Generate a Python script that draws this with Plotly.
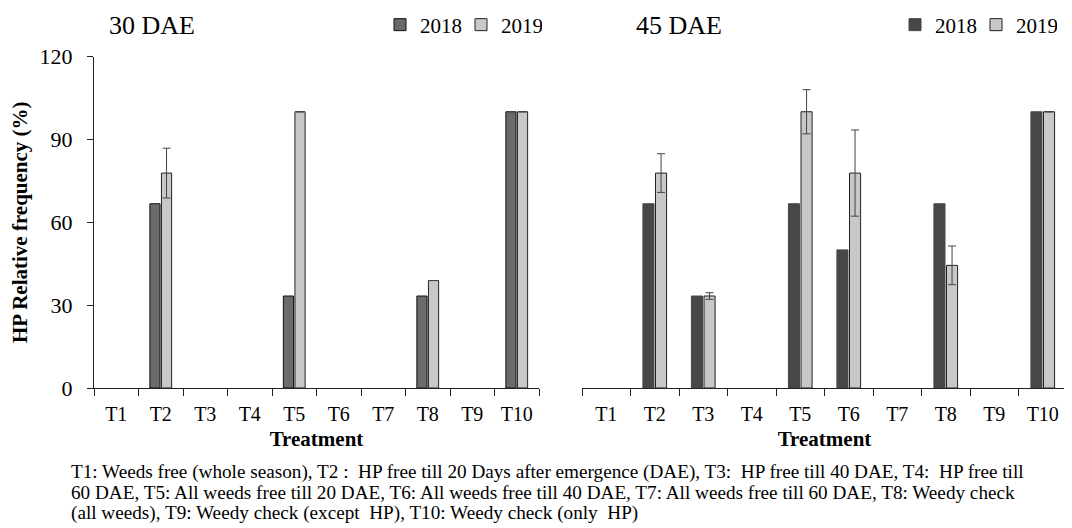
import plotly.graph_objects as go

treatments = ["T1", "T2", "T3", "T4", "T5", "T6", "T7", "T8", "T9", "T10"]

# 30 DAE
dae30_2018 = [0, 66.7, 0, 0, 33.3, 0, 0, 33.3, 0, 100]
dae30_2019 = [0, 77.8, 0, 0, 100, 0, 0, 38.9, 0, 100]
dae30_2019_err = [None, 9.0, None, None, None, None, None, None, None, None]

# 45 DAE
dae45_2018 = [0, 66.7, 33.3, 0, 66.7, 50.0, 0, 66.7, 0, 100]
dae45_2019 = [0, 77.8, 33.3, 0, 100, 77.8, 0, 44.4, 0, 100]
dae45_2019_err = [None, 7.0, 1.2, None, 8.0, 15.6, None, 7.0, None, None]

years = ["2018", "2019"]

footnote_lines = [
    "T1: Weeds free (whole season), T2 :  HP free till 20 Days after emergence (DAE), "
    "T3:  HP free till 40 DAE, T4:  HP free till",
    "60 DAE, T5: All weeds free till 20 DAE, T6: All weeds free till 40 DAE, "
    "T7: All weeds free till 60 DAE, T8: Weedy check",
    "(all weeds), T9: Weedy check (except  HP), T10: Weedy check (only  HP)",
]

FONT = "Liberation Serif"
# the page body has an 8px margin, so the figure is drawn 8px smaller
OFF = 8
W, H = 1072 - OFF, 528 - OFF


def px_x(p):
    return (p - OFF) / W


def px_y(p):
    return 1 - (p - OFF) / H


def nonzero(values):
    # empty bars are left out so nothing is drawn over the axis line
    return [v if v else None for v in values]


fig = go.Figure()

err_style = dict(type="data", color="#444444", thickness=1, width=4)

fig.add_trace(go.Bar(
    x=treatments, y=nonzero(dae30_2018), name=years[0],
    marker=dict(color="#6b6b6b", line=dict(color="#111111", width=1)),
    xaxis="x", yaxis="y", legend="legend",
))
fig.add_trace(go.Bar(
    x=treatments, y=nonzero(dae30_2019), name=years[1],
    marker=dict(color="#c8c8c8", line=dict(color="#222222", width=1)),
    error_y=dict(array=dae30_2019_err, **err_style),
    xaxis="x", yaxis="y", legend="legend",
))
fig.add_trace(go.Bar(
    x=treatments, y=nonzero(dae45_2018), name=years[0],
    marker=dict(color="#474747", line=dict(color="#474747", width=1)),
    xaxis="x2", yaxis="y2", legend="legend2",
))
fig.add_trace(go.Bar(
    x=treatments, y=nonzero(dae45_2019), name=years[1],
    marker=dict(color="#c8c8c8", line=dict(color="#222222", width=1)),
    error_y=dict(array=dae45_2019_err, **err_style),
    xaxis="x2", yaxis="y2", legend="legend2",
))

tick_font = dict(family=FONT, size=20, color="black")
title_font = dict(family=FONT, size=21, color="black")

xcommon = dict(
    type="category", showline=True, linecolor="#222222", linewidth=1,
    ticks="outside", tickson="boundaries", ticklen=7, tickcolor="#222222",
    tickfont=tick_font, ticklabelstandoff=8, showgrid=False, zeroline=False,
    automargin=False,
    title=dict(text="<b>Treatment</b>", font=title_font, standoff=7),
)

legend_common = dict(
    orientation="h", xanchor="left", yanchor="middle",
    font=dict(family=FONT, size=21, color="black"),
    itemwidth=30, entrywidth=36, entrywidthmode="pixels",
    bgcolor="rgba(0,0,0,0)", tracegroupgap=0, borderwidth=0,
)

plot_top, plot_bottom = 56.5, 388

fig.update_layout(
    width=W, height=H,
    margin=dict(l=0, r=0, t=0, b=0, autoexpand=False),
    paper_bgcolor="white", plot_bgcolor="white",
    barmode="group", bargap=0.48, bargroupgap=0.12,
    font=dict(family=FONT, color="black"),
    xaxis=dict(domain=[px_x(94), px_x(539)], anchor="y", **xcommon),
    xaxis2=dict(domain=[px_x(582), px_x(1067)], anchor="y2", **xcommon),
    yaxis=dict(
        domain=[px_y(plot_bottom), px_y(plot_top)], range=[0, 120], dtick=30,
        showline=True, linecolor="#222222", linewidth=1,
        ticks="outside", ticklen=6, tickcolor="#222222",
        tickfont=dict(family=FONT, size=22, color="black"), ticklabelstandoff=10,
        showgrid=False, zeroline=False, automargin=False,
        title=dict(text="<b>HP Relative frequency (%)</b>", font=title_font, standoff=8),
    ),
    yaxis2=dict(
        domain=[px_y(plot_bottom), px_y(plot_top)], range=[0, 120], anchor="x2",
        visible=False, showgrid=False, zeroline=False,
    ),
    legend=dict(x=px_x(380), y=px_y(25), **legend_common),
    legend2=dict(x=px_x(895), y=px_y(25), **legend_common),
    showlegend=True,
)

fig.add_annotation(
    text="30 DAE", x=px_x(152), y=px_y(26), xref="paper", yref="paper",
    xanchor="center", yanchor="middle", showarrow=False,
    font=dict(family=FONT, size=26, color="black"),
)
fig.add_annotation(
    text="45 DAE", x=px_x(679), y=px_y(26), xref="paper", yref="paper",
    xanchor="center", yanchor="middle", showarrow=False,
    font=dict(family=FONT, size=26, color="black"),
)

for i, line in enumerate(footnote_lines):
    fig.add_annotation(
        text=line, x=px_x(69), y=px_y(472 + 20.7 * i), xref="paper", yref="paper",
        xanchor="left", yanchor="middle", align="left", showarrow=False,
        font=dict(family=FONT, size=19.2, color="black"),
    )

fig.write_html("out.html")
